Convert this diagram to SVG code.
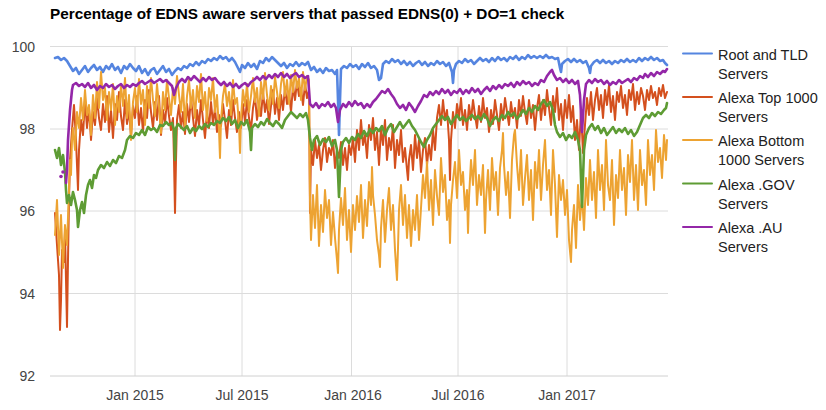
<svg xmlns="http://www.w3.org/2000/svg" width="826" height="410" viewBox="0 0 826 410">
<style>
.t{font-family:"Liberation Sans",Arial,sans-serif;}
.title{font-size:15.3px;font-weight:bold;fill:#000;}
.ax{font-size:14px;fill:#444;}
.lg{font-size:14.5px;fill:#222;}
.grid line{stroke:#dcdcdc;stroke-width:1;}
.s{fill:none;stroke-width:2;stroke-linejoin:round;stroke-linecap:round;}
.w{stroke-width:2.6;}
.blue{stroke:#5585e0;}
.red{stroke:#d4501e;}
.orange{stroke:#eda332;}
.green{stroke:#5e9c34;}
.purple{stroke:#9427a8;}
</style>
<rect width="826" height="410" fill="#fff"/>
<text class="t title" x="50" y="19">Percentage of EDNS aware servers that passed EDNS(0) + DO=1 check</text>
<g id="grid" class="grid">
<line x1="50" y1="46.5" x2="668" y2="46.5"/>
<line x1="50" y1="129" x2="668" y2="129"/>
<line x1="50" y1="211" x2="668" y2="211"/>
<line x1="50" y1="293.5" x2="668" y2="293.5"/>
<line x1="135" y1="46" x2="135" y2="376"/>
<line x1="242" y1="46" x2="242" y2="376"/>
<line x1="351.5" y1="46" x2="351.5" y2="376"/>
<line x1="458" y1="46" x2="458" y2="376"/>
<line x1="567" y1="46" x2="567" y2="376"/>
<line x1="50" y1="376" x2="668" y2="376" style="stroke:#d0d0d0"/>
</g>
<g id="yaxis" class="t ax" text-anchor="end">
<text x="35" y="51.5">100</text>
<text x="35" y="134">98</text>
<text x="35" y="216">96</text>
<text x="35" y="298.5">94</text>
<text x="35" y="381">92</text>
</g>
<g id="xaxis" class="t ax" text-anchor="middle">
<text x="135" y="400">Jan 2015</text>
<text x="242" y="400">Jul 2015</text>
<text x="353" y="400">Jan 2016</text>
<text x="458" y="400">Jul 2016</text>
<text x="567" y="400">Jan 2017</text>
</g>
<g id="series">
<path id="root-tld" class="s w blue" d="M55,58 58,57 61,60 64,58 67,61 70,66 73,71 76,68 79,74 82,70 85,66 88,72 91,68 94,65 97,70 100,67 103,72 106,66 109,69 112,64 115,70 118,67 121,73 124,66 127,69 130,64 133,68 136,71 139,66 142,73 145,69 148,75 151,70 154,68 157,74 160,70 163,66 166,72 169,69 172,75 175,71 178,68 181,70 184,66 187,68 190,64 193,66 196,62 199,65 202,61 205,63 208,59 211,61 214,58 217,60 220,56 223,59 226,57 229,61 232,58 235,62 238,68 240,72 242,65 245,68 248,63 251,67 254,64 257,69 260,61 263,63 266,58 269,61 272,57 275,60 278,63 281,66 284,63 287,68 290,64 293,66 296,62 299,66 302,63 305,65 308,62 311,70 314,67 317,72 320,69 323,73 326,68 329,71 332,70 335,74 337,70 338,100 339,135 340,100 341,69 344,66 347,68 350,64 353,67 356,65 359,69 362,64 365,67 368,63 371,68 374,66 377,70 379,80 381,78 383,64 386,61 389,63 392,59 395,62 398,60 401,64 404,61 407,65 410,62 413,66 416,63 419,61 422,65 425,62 428,66 431,63 434,65 437,61 440,64 443,62 446,66 449,63 452,72 453,83 454,70 456,64 459,61 462,63 465,59 468,62 471,60 474,64 477,61 480,58 483,61 486,59 489,62 492,58 495,61 498,57 501,60 504,58 507,61 510,57 513,59 516,56 519,60 522,57 525,59 528,55 531,58 534,56 537,58 540,56 543,58 546,55 549,58 552,57 555,59 558,58 560,68 561,72 562,64 565,61 568,59 571,62 574,59 577,62 580,60 583,63 586,61 589,68 590,73 591,66 594,62 597,60 600,63 603,60 606,63 609,61 612,64 615,61 618,63 621,60 624,62 627,59 630,62 633,60 636,62 639,58 642,61 645,58 648,60 651,57 654,60 657,58 660,61 663,60 665,63 667,65"/>
<path id="alexa-top" class="s red" d="M55,213 57,245 59,275 60,330 61,300 62,250 64,262 65,232 66,280 67,327 68,260 69,200 70,160 72,130 74,105 76,140 77,165 78,190 79,150 81,120 83,135 85,100 87,128 89,108 91,140 93,112 95,125 97,98 99,118 101,130 103,104 105,122 107,96 109,132 111,110 113,138 115,104 117,120 119,92 121,116 123,130 125,100 127,124 129,110 131,136 133,106 135,118 137,96 139,125 141,108 143,132 145,100 147,118 149,90 151,112 153,128 155,102 157,120 159,96 161,135 163,110 165,124 167,98 169,116 171,130 173,118 174,160 175,213 176,160 177,120 179,105 181,128 183,112 185,134 187,104 189,122 191,98 193,118 195,136 197,110 199,126 201,100 203,120 205,138 207,112 209,128 211,102 213,124 215,108 217,132 219,115 221,126 223,104 225,120 227,138 229,110 231,125 233,100 235,118 237,132 239,112 241,128 243,104 245,122 247,100 249,118 251,130 253,108 255,96 257,120 259,104 261,116 263,92 265,112 267,100 269,124 271,106 273,90 275,114 277,98 279,120 281,95 283,110 285,88 287,104 289,92 291,112 293,86 295,100 297,82 299,96 301,88 303,105 305,84 307,98 309,90 310,213 311,150 313,165 315,140 317,158 319,145 321,170 323,150 325,138 327,162 329,148 331,155 333,140 335,168 337,150 339,158 341,142 343,165 345,148 347,170 349,145 351,155 353,138 355,162 357,130 359,150 361,120 363,145 365,135 367,158 369,125 371,140 373,118 375,150 377,132 379,165 381,128 383,145 385,120 387,160 389,138 391,150 393,125 395,168 397,140 399,155 401,130 403,162 405,148 407,170 408,180 409,160 411,145 413,170 415,135 417,158 419,140 421,172 423,150 425,138 427,165 429,145 431,160 433,130 435,150 437,118 439,105 441,125 443,100 445,120 447,110 449,140 450,180 451,140 453,112 455,128 457,104 459,118 461,98 463,125 465,110 467,130 469,105 471,120 473,100 475,115 477,128 479,106 481,122 483,98 485,118 487,108 489,132 491,110 493,124 495,100 497,115 499,130 501,104 503,120 505,98 507,112 509,125 511,102 513,118 515,108 517,128 519,100 521,116 523,96 525,112 527,124 529,100 531,118 533,105 535,130 537,108 539,95 541,120 543,100 545,115 547,90 549,108 551,125 553,96 555,112 557,88 559,120 561,104 563,130 565,100 567,118 569,95 571,122 573,106 575,140 577,120 579,150 581,110 583,153 585,125 587,98 589,115 591,92 593,120 595,100 597,88 599,110 601,95 603,118 605,90 607,105 609,85 611,112 613,96 615,120 617,92 619,102 621,86 623,108 625,95 627,115 629,90 631,100 633,84 635,110 637,92 639,104 641,88 643,96 645,110 647,90 649,100 651,86 653,98 655,92 657,105 659,88 661,96 663,85 665,98 667,92"/>
<path id="alexa-bottom" class="s orange" d="M55,235 57,200 59,255 61,215 63,268 65,225 67,245 69,190 70,160 71,175 72,140 73,128 75,150 77,112 79,128 81,98 83,120 85,90 87,115 89,105 91,135 93,95 95,118 97,82 99,108 101,72 103,100 105,88 107,120 109,92 111,110 113,84 115,125 117,96 119,112 121,85 123,106 125,78 127,118 129,95 131,140 133,102 135,88 137,112 139,79 141,104 143,90 145,125 147,86 149,108 151,78 153,100 155,116 157,84 159,106 161,133 163,92 165,110 167,80 169,98 171,115 173,88 175,104 177,76 179,95 181,112 183,84 185,126 187,96 189,80 191,108 193,90 195,118 197,86 199,102 201,74 203,110 205,92 207,121 209,88 211,100 213,78 215,112 217,95 219,130 220,158 221,120 223,96 225,84 227,106 229,92 231,115 233,80 235,104 237,98 239,125 240,153 241,118 243,90 245,106 247,84 249,112 251,96 253,78 255,102 257,88 259,116 261,82 263,99 265,73 267,95 269,110 271,86 273,104 275,77 277,92 279,108 281,84 283,72 285,96 287,80 289,104 291,75 293,92 295,70 297,88 299,78 301,100 303,72 305,90 307,76 309,80 310,200 311,240 313,195 315,228 317,185 319,246 321,205 323,232 325,190 327,218 329,200 331,245 333,212 335,238 337,260 338,273 339,230 341,198 343,225 345,188 347,240 349,210 351,252 353,205 355,230 357,196 359,222 361,185 363,238 365,200 367,226 369,182 371,205 372,167 373,195 375,215 377,240 379,255 380,267 381,228 383,200 385,242 387,210 389,188 391,230 393,205 395,250 397,280 398,248 399,210 401,185 403,225 405,195 407,238 409,205 411,246 413,210 415,230 417,195 419,240 421,208 423,175 425,198 427,162 429,210 431,180 433,225 435,170 437,196 439,215 441,158 443,192 445,175 447,220 449,200 450,243 451,205 453,180 455,162 457,198 459,150 461,185 463,172 465,210 467,190 468,233 469,198 471,160 473,185 475,150 477,205 479,175 481,195 483,165 485,233 486,200 488,170 490,210 492,158 494,190 496,172 498,215 500,168 502,150 503,133 504,165 506,195 508,172 510,218 512,160 514,135 515,130 517,165 519,190 521,150 523,205 525,178 527,155 529,200 531,170 533,220 535,162 537,188 539,150 541,200 543,165 545,140 547,190 549,170 551,215 553,150 555,185 557,237 559,175 561,200 563,180 565,215 567,190 569,240 571,262 572,230 574,205 576,248 578,185 580,220 582,195 584,230 586,178 588,205 590,160 592,200 594,172 596,218 598,150 600,190 602,165 604,210 606,140 608,185 610,200 612,160 614,225 616,175 618,198 620,150 622,190 624,168 626,215 628,155 630,182 632,140 634,200 636,165 638,210 640,150 642,185 644,170 646,205 648,140 650,175 652,155 654,190 656,130 658,162 660,148 662,178 664,135 666,160 667,140"/>
<path id="alexa-gov" class="s w green" d="M55,150 57,158 59,148 61,165 63,155 65,172 66,190 67,203 69,195 71,205 73,192 75,200 77,210 78,227 80,210 82,202 84,213 86,195 88,185 90,180 92,188 94,175 96,178 98,170 101,165 104,168 107,162 110,166 113,160 116,163 119,156 122,158 125,150 127,140 130,136 133,138 136,133 139,135 142,130 145,135 148,127 151,130 154,128 157,132 160,125 163,126 166,122 169,125 172,123 174,130 175,160 176,128 178,124 181,127 184,130 187,126 190,133 193,128 196,131 199,126 202,129 205,124 208,127 211,123 214,125 217,121 220,123 223,118 226,121 229,117 232,124 235,120 238,128 241,122 244,125 247,120 250,132 251,150 252,128 255,124 258,127 261,122 264,125 267,119 270,123 273,126 276,121 279,124 282,128 285,120 288,116 291,112 294,115 297,118 300,114 303,117 306,113 308,120 310,138 312,150 314,140 317,136 320,145 323,139 326,142 329,137 332,146 335,140 337,150 339,197 341,150 343,142 346,138 349,143 352,137 355,140 358,134 361,138 364,131 367,136 370,129 373,133 376,128 379,131 382,126 385,135 388,128 391,124 394,132 397,127 400,122 403,128 406,124 409,120 412,126 415,130 418,136 421,142 424,147 427,140 430,135 433,128 436,124 439,120 442,116 445,120 448,117 451,124 454,119 457,115 460,120 463,117 466,121 469,118 472,115 475,119 478,116 481,120 484,114 487,118 490,126 493,120 496,117 499,121 502,115 505,118 508,112 511,116 514,113 517,119 520,115 523,110 526,114 529,108 532,112 535,106 538,110 541,104 544,100 547,106 550,102 553,110 555,125 557,132 560,137 563,133 566,140 569,135 572,138 575,132 578,140 580,150 582,207 584,150 586,135 589,128 592,124 595,130 598,126 601,133 604,128 607,135 610,131 613,127 616,133 619,129 622,132 625,128 628,134 631,130 634,136 637,132 640,125 643,118 646,115 649,118 652,113 655,116 658,112 661,114 664,110 666,108 667,103"/>
<g id="alexa-au">
<circle cx="61" cy="176.5" r="1.8" fill="#9427a8"/>
<circle cx="63" cy="172" r="1.8" fill="#9427a8"/>
<path class="s w purple" d="M66,183 67,170 68,140 69,125 70,110 71,100 72,90 73,85 76,83 79,86 82,84 85,87 88,83 91,88 94,85 97,90 100,86 103,88 106,84 109,87 112,85 115,89 118,86 121,84 124,88 127,85 130,87 133,84 136,86 139,83 142,81 145,84 148,82 151,80 154,83 157,81 160,79 163,82 166,80 169,83 172,86 174,95 176,88 179,82 182,79 185,82 188,77 191,80 194,76 197,79 200,82 203,78 206,81 209,77 212,80 215,78 218,82 221,85 224,82 227,86 230,83 233,87 236,84 239,88 242,85 245,83 248,86 251,82 254,80 257,77 260,80 263,76 266,79 269,75 272,78 275,74 278,77 281,73 284,77 287,74 290,78 293,75 296,73 299,77 302,75 305,78 308,76 310,104 313,107 316,103 319,108 322,104 325,106 328,102 331,107 334,104 336,108 338,122 340,110 343,104 346,107 349,102 352,106 355,101 358,105 361,103 364,108 367,104 370,107 373,102 376,99 379,95 382,91 385,93 388,89 391,94 394,98 397,104 400,108 403,105 406,110 409,103 412,107 415,112 418,106 421,101 424,95 427,97 430,92 433,95 436,91 439,94 442,89 445,93 448,90 451,95 454,91 457,93 460,89 463,94 466,90 469,93 472,88 475,92 478,89 481,94 484,90 487,87 490,91 493,86 496,89 499,85 502,88 505,84 508,86 511,83 514,87 517,82 520,85 523,81 526,84 529,82 532,86 535,83 538,85 541,80 544,82 547,76 550,72 552,70 554,75 557,80 560,78 563,82 566,79 569,83 572,80 575,84 578,81 580,95 582,132 584,100 586,84 589,80 592,83 595,79 598,82 601,80 604,84 607,81 610,85 613,82 616,84 619,80 622,83 625,81 628,79 631,82 634,78 637,80 640,76 643,78 645,74 648,77 651,73 654,76 657,72 660,74 663,71 665,72 667,69"/>
</g>
</g>
<g id="legend" class="t lg">
<g id="lg-root"><line x1="683" y1="53.5" x2="712" y2="53.5" class="s blue"/><text x="718" y="59.5">Root and TLD</text><text x="718" y="78.5">Servers</text></g>
<g id="lg-top"><line x1="683" y1="97" x2="712" y2="97" class="s red"/><text x="718" y="103">Alexa Top 1000</text><text x="718" y="122">Servers</text></g>
<g id="lg-bottom"><line x1="683" y1="140" x2="712" y2="140" class="s orange"/><text x="718" y="146">Alexa Bottom</text><text x="718" y="165">1000 Servers</text></g>
<g id="lg-gov"><line x1="683" y1="183.5" x2="712" y2="183.5" class="s green"/><text x="718" y="189.5">Alexa .GOV</text><text x="718" y="208.5">Servers</text></g>
<g id="lg-au"><line x1="683" y1="227" x2="712" y2="227" class="s purple"/><text x="718" y="233">Alexa .AU</text><text x="718" y="252">Servers</text></g>
</g>
</svg>
